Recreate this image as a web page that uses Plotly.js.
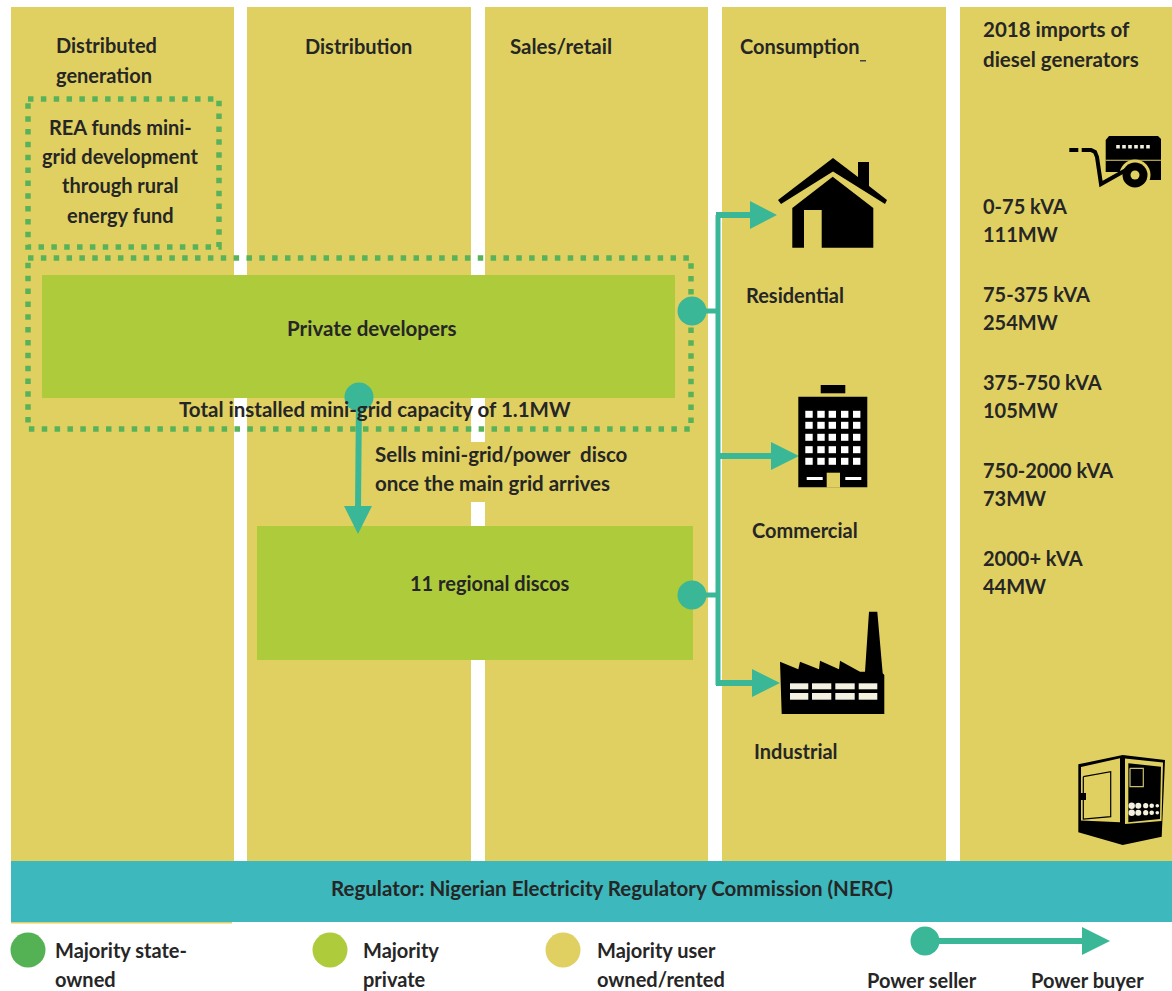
<!DOCTYPE html>
<html><head><meta charset="utf-8">
<script src="https://cdn.plot.ly/plotly-3.0.1.min.js"></script>
<style>html,body{margin:0;padding:0;background:#fff;overflow:hidden}#c{width:1172px;height:991px}</style>
</head><body><div id="c"></div>
<script>
// ---------- content ----------
const columnHeads = ["Distributed","generation","Distribution","Sales/retail","Consumption","2018 imports of","diesel generators"];
const sectors = ["Residential","Commercial","Industrial"];
const reaLines = ["REA funds mini-","grid development","through rural","energy fund"];
const kvaBands = ["0-75 kVA","75-375 kVA","375-750 kVA","750-2000 kVA","2000+ kVA"];
const importsMW = [111,254,105,73,44];
const legendLabels = ["Majority state-","owned","Majority","private","Majority user","owned/rented","Power seller","Power buyer"];

// ---------- style ----------
const YEL="#E0D061", LIME="#AECB3C", TEAL="#3DB8BC", ARROW="#3AB796", DOT="#58B25A", INK="#262626", BLK="#000";
const FONT="Lato", FS=20, FS_LONG=20.5;

// ---------- layout helpers (diagram coordinates: one unit = one pixel of the picture) ----------
const shapes=[], annotations=[];
const rect=(x0,y0,x1,y1,c)=>shapes.push({type:"rect",xref:"x",yref:"y",x0,y0,x1,y1,fillcolor:c,line:{width:0},layer:"below"});
const poly=(pts,c)=>shapes.push({type:"path",xref:"x",yref:"y",path:"M"+pts.map(p=>p.join(",")).join("L")+"Z",fillcolor:c,line:{width:0},layer:"below"});
const circ=(cx,cy,r,c)=>shapes.push({type:"circle",xref:"x",yref:"y",x0:cx-r,x1:cx+r,y0:cy-r,y1:cy+r,fillcolor:c,line:{width:0},layer:"below"});
const line=(pts,c,w)=>shapes.push({type:"path",xref:"x",yref:"y",path:"M"+pts.map(p=>p.join(",")).join("L"),line:{color:c,width:w},layer:"below"});
const dotted=(x0,y0,x1,y1)=>shapes.push({type:"rect",xref:"x",yref:"y",x0,y0,x1,y1,fillcolor:"rgba(0,0,0,0)",line:{color:DOT,width:5.5,dash:"5.5px,7.35px"},layer:"below"});
const text=(t,x,y,anchor,size)=>annotations.push({text:t,x:x-1,y:y-1,xref:"x",yref:"y",xanchor:anchor||"left",yanchor:"middle",showarrow:false,borderpad:0,font:{family:FONT,size:size||FS,color:INK,weight:700}});

// backgrounds
[[11,234],[247,471],[485,708],[722,946],[960,1172]].forEach(c=>rect(c[0],7,c[1],861,YEL));
rect(471,442,485,502,"#E2CE5E");           // patch behind the "Sells" label
rect(11,922,232,923.5,YEL);
rect(11,861,1172,922,TEAL);
rect(860,60,866,61.5,"#444");
// boxes
rect(42,275,675,398,LIME);
rect(257,526,693,660,LIME);
dotted(28,99,219,247);
dotted(28,258,691,429);

// power-flow lines
const arrow=(x0,y,x1,tipX,half)=>{line([[x0,y],[x1,y]],ARROW,6);poly([[x1,y-half],[tipX,y],[x1,y+half]],ARROW);};
line([[718,215],[718,685]],ARROW,5);
line([[692,311],[718,311]],ARROW,5);
line([[692,595],[718,595]],ARROW,5);
arrow(716,215,750,777,14);
arrow(716,456,771,799,14);
arrow(716,683,752,780,14);
line([[359,397],[358,508]],ARROW,6);
poly([[344,506],[372,506],[358,534]],ARROW);
// legend arrow
line([[925,941],[1084,941]],ARROW,6);
poly([[1082,927],[1110,941],[1082,955]],ARROW);

// house icon
poly([[778,200],[833,158],[858,177],[858,162],[869,162],[869,186],[887,200],[885,204],[833,171.5],[781,204]],BLK);
poly([[792.3,208],[832.7,176.7],[873.3,208],[873.3,247.7],[821.7,247.7],[821.7,210],[804,210],[804,247.7],[792.3,247.7]],BLK);

// office icon
rect(798.3,396.7,867.3,487.3,BLK);
rect(820.7,385,845.3,393.3,BLK);
[809,821,832.3,844.7,856.7].forEach(x=>[414.3,425.3,437.3,449.7,461.3].forEach(y=>rect(x-3.7,y-3.5,x+3.7,y+3.5,"#fff")));
rect(826.7,472.7,840,487.5,YEL);
rect(806.7,477,822.7,480,"#fff");
rect(845.3,477,861.3,480,"#fff");

// factory icon
poly([[869,611.7],[877.3,611.7],[882.7,673.3],[884.3,675],[884.3,714],[781.7,714],[780,661.7],[798.3,669.3],[800,661.7],[819,669.3],[820,660.7],[839,669.3],[840,660.7],[860,671.7],[865,671.7]],BLK);
[[790,808.3],[812,831.3],[835.3,854.7],[858.7,877.3]].forEach(c=>[[683.3,689.3],[693,699.7]].forEach(r=>rect(c[0],r[0],c[1],r[1],"#F4F1E0")));

// towable generator icon
poly([[1105.7,140],[1109,136],[1158,136],[1161,139],[1161,180],[1105.7,180]],BLK);
poly([[1105,172],[1122,172],[1122,181],[1105,181]],YEL);
rect(1105.7,159.7,1161,160.7,YEL);
[1118,1124,1130,1136,1142,1148].forEach(x=>rect(x-1.8,145,x+1.8,148.5,"#F4F1E0"));
circ(1135,175,15.5,YEL);
circ(1135,175,12.5,BLK);
circ(1135,175,4.5,YEL);
rect(1069.3,148,1078.3,152,BLK);
line([[1081.7,150],[1091,150],[1095,152],[1097,157],[1101,184],[1126,170]],BLK,4);

// enclosed generator icon
poly([[1078.3,764.3],[1122.7,755],[1165,760],[1161.7,836.7],[1122.7,845],[1078.3,832.3]],BLK);
poly([[1081,767],[1120,758.3],[1120,822.3],[1081,820.5]],YEL);
poly([[1125,758.5],[1163,762.5],[1161.5,821],[1125,824]],YEL);
poly([[1128.3,763.3],[1161,766.7],[1160,819],[1128.3,822.3]],BLK);
line([[1083.3,776.7],[1110.7,771.7],[1110.7,816.7],[1083.3,819],[1083.3,776.7]],BLK,1.2);
rect(1080,793,1086,800,BLK);
line([[1130,768.3],[1143.3,768.3],[1143.3,786.7],[1130,786.7],[1130,768.3]],"#C9BF72",1.2);
[[1131.7,3.2],[1138.3,3],[1145.7,2.6],[1151.7,2.3],[1157.3,1.8]].forEach(d=>[805.7,812.7].forEach(y=>circ(d[0],y,d[1],"#F4F1E0")));

// text
text(columnHeads[0],56,46); text(columnHeads[1],56,76);
text(columnHeads[2],305,47); text(columnHeads[3],510,47,"left",FS_LONG); text(columnHeads[4],740,47);
text(columnHeads[5],983,30,"left",FS_LONG); text(columnHeads[6],983,60,"left",FS_LONG);
reaLines.forEach((t,i)=>text(t,121,[128,157,186,216][i],"center"));
text("Private developers",372.5,329,"center",FS_LONG);
text("Total installed mini-grid capacity of 1.1MW",375.5,410,"center",FS_LONG);
text("Sells mini-grid/power\u00a0 disco",375,455,"left",FS_LONG);
text("once the main grid arrives",375,484,"left",FS_LONG);
text("11 regional discos",490,584,"center");
text(sectors[0],746,296); text(sectors[1],752,531); text(sectors[2],754,752);
kvaBands.forEach((b,i)=>{const y=207+88*i; text(b,983,y); text(importsMW[i]+"MW",983,y+28);});
text("Regulator: Nigerian Electricity Regulatory Commission (NERC)",613,889,"center",FS_LONG);
[[55,951],[55,980],[363,951],[363,980],[597,951],[597,980],[867,981],[1031,981]].forEach((p,i)=>text(legendLabels[i],p[0],p[1]));

// nodes and legend swatches as marker traces
const nodeX=[692,359,692,925], nodeY=[311,397,595,941];
const swatchX=[28,330,563], swatchY=[950,950,950], swatchColors=["#55B254",LIME,YEL];

Plotly.newPlot("c",[
 {type:"scatter",mode:"markers",x:nodeX,y:nodeY,marker:{size:29,color:ARROW,line:{width:0}},hoverinfo:"skip",cliponaxis:false},
 {type:"scatter",mode:"markers",x:swatchX,y:swatchY,marker:{size:35,color:swatchColors,line:{width:0}},hoverinfo:"skip",cliponaxis:false}
],{
 width:1172,height:991,margin:{l:0,r:0,t:0,b:0,pad:0},showlegend:false,
 paper_bgcolor:"#fff",plot_bgcolor:"#fff",
 xaxis:{range:[0,1172],visible:false,fixedrange:true},
 yaxis:{range:[991,0],visible:false,fixedrange:true},
 shapes,annotations
},{displayModeBar:false,staticPlot:true});
</script></body></html>
